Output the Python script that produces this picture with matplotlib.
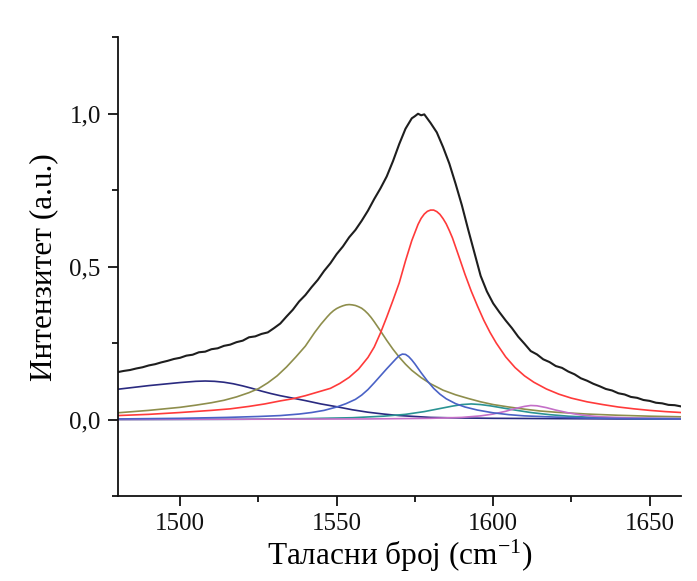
import matplotlib
matplotlib.use("Agg")
import matplotlib.pyplot as plt
from matplotlib.ticker import MultipleLocator, FuncFormatter

plt.rcParams['font.family'] = ['Liberation Serif', 'DejaVu Serif']
plt.rcParams['mathtext.fontset'] = 'custom'
plt.rcParams['mathtext.rm'] = 'Liberation Serif'
plt.rcParams['mathtext.it'] = 'Liberation Serif:italic'

# ---- data ----
total_x = [1480, 1482, 1484, 1486, 1488, 1490, 1492, 1494, 1496, 1498, 1500, 1502, 1504, 1506, 1508,
           1510, 1512, 1514, 1516, 1518, 1520, 1522, 1524, 1526, 1528, 1530, 1532, 1534, 1536, 1538,
           1540, 1542, 1544, 1546, 1548, 1550, 1552, 1554, 1556, 1558, 1560, 1562, 1564, 1566, 1568,
           1570, 1572, 1574, 1575, 1576, 1577, 1578, 1580, 1582, 1584, 1586, 1588, 1590, 1592, 1594,
           1596, 1598, 1600, 1602, 1604, 1606, 1608, 1610, 1612, 1614, 1616, 1618, 1620, 1622, 1624,
           1626, 1628, 1630, 1632, 1634, 1636, 1638, 1640, 1642, 1644, 1646, 1648, 1650, 1652, 1654,
           1656, 1658, 1660]
total_y = [0.155, 0.159, 0.162, 0.167, 0.171, 0.177, 0.181, 0.187, 0.192, 0.198, 0.202, 0.209, 0.212, 0.220, 0.222,
           0.230, 0.233, 0.241, 0.245, 0.253, 0.258, 0.269, 0.272, 0.280, 0.285, 0.299, 0.314, 0.337, 0.359, 0.386,
           0.407, 0.433, 0.457, 0.486, 0.511, 0.541, 0.566, 0.596, 0.620, 0.650, 0.683, 0.721, 0.756, 0.795, 0.845,
           0.901, 0.951, 0.985, 0.992, 1.000, 0.995, 0.998, 0.970, 0.939, 0.891, 0.837, 0.771, 0.701, 0.622, 0.546,
           0.470, 0.419, 0.380, 0.351, 0.324, 0.299, 0.271, 0.248, 0.224, 0.213, 0.197, 0.188, 0.175, 0.169, 0.157,
           0.148, 0.135, 0.127, 0.117, 0.109, 0.100, 0.095, 0.086, 0.082, 0.074, 0.071, 0.064, 0.061, 0.055, 0.053,
           0.048, 0.047, 0.043]

navy_x = [1480, 1485, 1490, 1495, 1500, 1505, 1508, 1511, 1514, 1517, 1520, 1523, 1526, 1529, 1532,
          1536, 1540, 1545, 1550, 1555, 1560, 1565, 1570, 1575, 1580, 1590, 1600, 1620, 1640, 1660]
navy_y = [0.099, 0.105, 0.111, 0.116, 0.121, 0.125, 0.126, 0.125, 0.122, 0.117, 0.110, 0.102, 0.093, 0.085, 0.078,
          0.070, 0.062, 0.051, 0.042, 0.032, 0.024, 0.018, 0.013, 0.010, 0.007, 0.005, 0.004, 0.003, 0.002, 0.002]

olive_x = [1480, 1485, 1490, 1495, 1500, 1505, 1510, 1514, 1518, 1522, 1525, 1528, 1531, 1534, 1537,
           1540, 1543, 1545, 1547, 1548, 1549, 1550, 1551, 1552, 1553, 1554, 1555, 1556, 1557, 1558,
           1559, 1560, 1561, 1562, 1564, 1566, 1568, 1570, 1572, 1574, 1577, 1580, 1584, 1588, 1592,
           1596, 1600, 1605, 1610, 1615, 1620, 1630, 1640, 1650, 1660]
olive_y = [0.022, 0.026, 0.030, 0.035, 0.040, 0.047, 0.055, 0.063, 0.074, 0.088, 0.101, 0.120, 0.143, 0.172, 0.205,
           0.240, 0.285, 0.312, 0.336, 0.347, 0.356, 0.363, 0.368, 0.372, 0.375, 0.376, 0.375, 0.373, 0.369, 0.364,
           0.356, 0.346, 0.334, 0.320, 0.290, 0.259, 0.230, 0.204, 0.181, 0.161, 0.137, 0.117, 0.096, 0.081, 0.069,
           0.058, 0.049, 0.041, 0.034, 0.028, 0.024, 0.018, 0.014, 0.011, 0.009]

red_x = [1480, 1490, 1500, 1510, 1516, 1522, 1527, 1532, 1536, 1540, 1544, 1548, 1551, 1554, 1557,
         1560, 1562, 1564, 1566, 1568, 1570, 1572, 1574, 1576, 1577, 1578, 1579, 1580, 1581, 1582,
         1583, 1584, 1585, 1586, 1587, 1589, 1591, 1593, 1595, 1597, 1599, 1601, 1604, 1607, 1610,
         1613, 1617, 1621, 1625, 1630, 1635, 1640, 1645, 1650, 1655, 1660]
red_y = [0.013, 0.017, 0.023, 0.030, 0.035, 0.043, 0.051, 0.061, 0.068, 0.078, 0.090, 0.102, 0.118, 0.138, 0.165,
         0.203, 0.237, 0.283, 0.335, 0.390, 0.447, 0.519, 0.585, 0.638, 0.658, 0.672, 0.681, 0.685, 0.685, 0.680,
         0.671, 0.657, 0.640, 0.618, 0.594, 0.535, 0.475, 0.420, 0.371, 0.325, 0.285, 0.250, 0.205, 0.170, 0.143,
         0.122, 0.100, 0.083, 0.070, 0.058, 0.049, 0.041, 0.035, 0.030, 0.026, 0.023]

blue_x = [1480, 1500, 1515, 1525, 1532, 1538, 1542, 1546, 1550, 1553, 1556, 1558, 1560, 1562, 1564,
          1566, 1568, 1569, 1570, 1571, 1572, 1573, 1574, 1575, 1577, 1579, 1581, 1583, 1585, 1588,
          1591, 1595, 1600, 1605, 1610, 1620, 1630, 1645, 1660]
blue_y = [0.002, 0.004, 0.007, 0.010, 0.013, 0.018, 0.023, 0.030, 0.041, 0.052, 0.066, 0.080, 0.098, 0.120, 0.143,
          0.166, 0.188, 0.199, 0.209, 0.214, 0.213, 0.206, 0.195, 0.182, 0.153, 0.126, 0.102, 0.083, 0.068, 0.052,
          0.041, 0.031, 0.022, 0.016, 0.012, 0.008, 0.005, 0.003, 0.002]

teal_x = [1480, 1520, 1540, 1555, 1565, 1572, 1578, 1583, 1587, 1590, 1593, 1596, 1599, 1603, 1607,
          1612, 1618, 1624, 1632, 1645, 1660]
teal_y = [0.000, 0.001, 0.003, 0.006, 0.011, 0.017, 0.026, 0.036, 0.044, 0.049, 0.051, 0.049, 0.045, 0.038, 0.031,
          0.023, 0.016, 0.011, 0.007, 0.004, 0.003]

mag_x = [1480, 1560, 1580, 1590, 1596, 1600, 1604, 1607, 1610, 1612, 1614, 1617, 1620, 1624, 1628,
         1634, 1645, 1660]
mag_y = [0.000, 0.002, 0.004, 0.007, 0.012, 0.018, 0.027, 0.036, 0.043, 0.046, 0.045, 0.039, 0.031, 0.022, 0.015,
         0.009, 0.005, 0.003]

x_ticks = [1500, 1550, 1600, 1650]
y_ticks = [0.0, 0.5, 1.0]
x_label = 'Таласни број (cm$^{-1}$)'
y_label = 'Интензитет (a.u.)'

# ---- figure ----
fig = plt.figure(figsize=(6.97, 5.81), dpi=100)
ax = fig.add_axes([0.1686, 0.1463, 0.8084, 0.7895])

ax.plot(navy_x, navy_y, color='#2a2a80', lw=1.2)
ax.plot(olive_x, olive_y, color='#8e8e4c', lw=1.2)
ax.plot(teal_x, teal_y, color='#2a9393', lw=1.2)
ax.plot(mag_x, mag_y, color='#c46fc8', lw=1.2)
ax.plot(blue_x, blue_y, color='#4a62c6', lw=1.2)
ax.plot(red_x, red_y, color='#ff3a3a', lw=1.2)
ax.plot(total_x, total_y, color='#1e1e1e', lw=1.5)

ax.set_xlim(1480, 1660)
ax.set_ylim(-0.25, 1.25)
ax.set_xticks(x_ticks)
ax.set_yticks(y_ticks)
ax.xaxis.set_minor_locator(MultipleLocator(25))
ax.yaxis.set_minor_locator(MultipleLocator(0.25))
ax.yaxis.set_major_formatter(FuncFormatter(lambda v, p: f'{v:.1f}'.replace('.', ',')))

for s in ['top', 'right']:
    ax.spines[s].set_visible(False)
for s in ['left', 'bottom']:
    ax.spines[s].set_linewidth(1.3)
    ax.spines[s].set_color('#111111')

ax.tick_params(axis='both', which='major', direction='out', length=7, width=1.3,
               labelsize=18, colors='#111111', pad=5)
ax.tick_params(axis='both', which='minor', direction='out', length=4, width=1.3, colors='#111111')

ax.set_xlabel(x_label, fontsize=22.5, labelpad=2)
ax.set_ylabel(y_label, fontsize=22.5, labelpad=8)

fig.savefig('out.png', dpi=100, facecolor='white')
